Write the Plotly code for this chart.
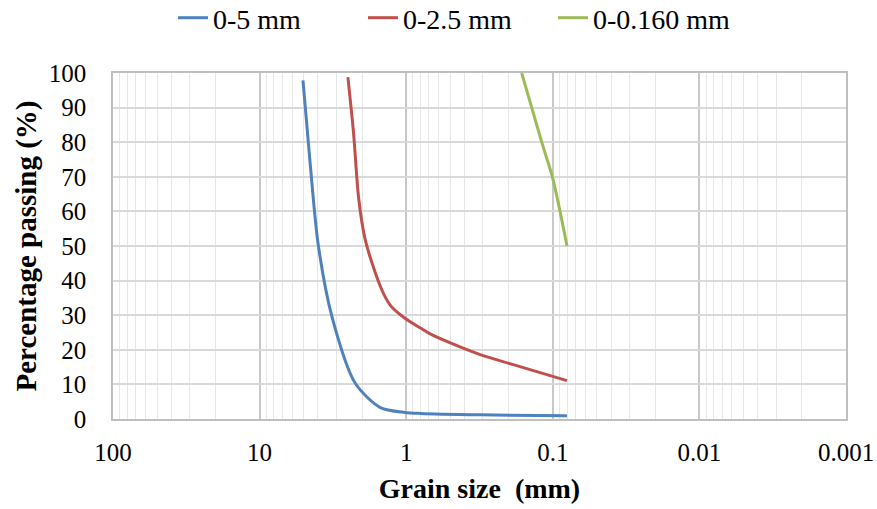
import plotly.graph_objects as go

# Grain size (mm) and percentage passing
size_0_5 = [5.06, 4.51, 3.98, 3.21, 2.23, 1.50, 1.02, 0.80, 0.313, 0.080]
pass_0_5 = [97.9, 73.4, 50.3, 29.6, 10.4, 3.3, 1.9, 1.6, 1.2, 0.95]

size_0_2_5 = [2.50, 2.29, 2.11, 1.90, 1.50, 1.29, 1.02, 0.80, 0.686, 0.463, 0.313, 0.186, 0.080]
pass_0_2_5 = [98.8, 83.0, 63.8, 51.7, 38.3, 33.0, 29.1, 26.3, 24.6, 21.4, 18.6, 15.7, 11.1]

size_0_016 = [0.163, 0.119, 0.1, 0.08]
pass_0_016 = [100, 80, 69.5, 50]

series_names = ["0-5 mm", "0-2.5 mm", "0-0.160 mm"]
series_colors = ["#4F81BD", "#C0504D", "#9BBB59"]

x_tickvals = [100, 10, 1, 0.1, 0.01, 0.001]
x_ticktext = ["100", "10", "1", "0.1", "0.01", "0.001"]
y_tickvals = list(range(0, 101, 10))

FONT = "Liberation Serif, Times New Roman, serif"

fig = go.Figure()
for xs, ys, name, col in zip(
    [size_0_5, size_0_2_5, size_0_016],
    [pass_0_5, pass_0_2_5, pass_0_016],
    series_names, series_colors,
):
    fig.add_trace(go.Scatter(
        x=xs, y=ys, mode="lines", name=name,
        line=dict(color=col, width=3, shape="spline", smoothing=0.8),
    ))

fig.update_layout(
    width=877, height=509,
    margin=dict(l=113, r=31, t=73, b=90),
    paper_bgcolor="white", plot_bgcolor="white",
    font=dict(family=FONT, size=24, color="black"),
    legend=dict(
        orientation="h", xref="container", x=173 / 877, xanchor="left",
        yref="container", y=1 - 18 / 509, yanchor="middle",
        font=dict(family=FONT, size=28, color="black"),
        entrywidth=145, entrywidthmode="pixels",
        tracegroupgap=0,
    ),
    showlegend=True,
)

fig.update_xaxes(
    type="log", range=[2, -3], automargin=False,
    tickvals=x_tickvals, ticktext=x_ticktext,
    tickfont=dict(family=FONT, size=25, color="black"),
    showgrid=True, gridcolor="#C8C8C8", gridwidth=1.5,
    minor=dict(dtick="D1", showgrid=True, gridcolor="#E6E6E6", gridwidth=1, ticks=""),
    showline=True, linecolor="#BFBFBF", linewidth=1.5, mirror=True,
    ticks="", ticklabelstandoff=10,
    title=dict(text="<b>Grain size  (mm)</b>", font=dict(family=FONT, size=28, color="black"), standoff=14),
    zeroline=False,
)
fig.update_yaxes(
    range=[0, 100], tickvals=y_tickvals,
    tickfont=dict(family=FONT, size=25, color="black"),
    showgrid=True, gridcolor="#D9D9D9", gridwidth=1.5,
    showline=True, linecolor="#BFBFBF", linewidth=1.5, mirror=True,
    ticks="", ticklabelstandoff=20,
    title=dict(text="<b>Percentage passing (%)</b>", font=dict(family=FONT, size=29, color="black"), standoff=4),
    zeroline=False,
)

fig.write_html("out.html")
